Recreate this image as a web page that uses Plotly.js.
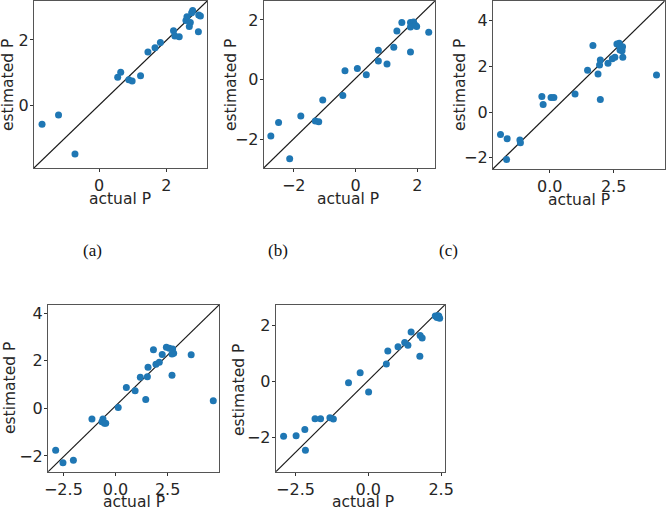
<!DOCTYPE html>
<html>
<head>
<meta charset="utf-8">
<script src="https://cdn.plot.ly/plotly-3.0.1.min.js"></script>
<style>
  html, body { margin: 0; padding: 0; background: #fff; }
  #chart { width: 666px; height: 509px; }
</style>
</head>
<body>
<div id="chart"></div>
<script>
// Actual vs. estimated P for five cases, each with its reference diagonal.
const actualA = [-1.70, -1.21, -0.72, 0.55, 0.64, 0.88, 0.98, 1.23, 1.45, 1.66, 1.82,
                 2.21, 2.25, 2.38, 2.58, 2.61, 2.71, 2.68, 2.75, 2.78, 2.96, 3.01, 2.95];
const estA    = [-0.58, -0.30, -1.49, 0.86, 1.01, 0.78, 0.74, 0.90, 1.63, 1.76, 1.92,
                 2.28, 2.12, 2.10, 2.59, 2.71, 2.53, 2.41, 2.83, 2.90, 2.76, 2.73, 2.25];

const actualB = [-2.74, -2.49, -2.13, -1.77, -1.30, -1.19, -1.06, -0.41, -0.34, 0.06, 0.35, 0.74,
                 0.74, 1.02, 1.24, 1.34, 1.50, 1.78, 1.78, 1.88, 1.78, 1.94, 1.98, 2.37];
const estB    = [-1.87, -1.42, -2.63, -1.21, -1.37, -1.40, -0.67, -0.52, 0.30, 0.38, 0.17, 0.99,
                 0.63, 0.53, 1.09, 1.63, 1.91, 0.93, 1.91, 1.93, 1.76, 1.82, 1.78, 1.59];

const actualC = [-1.93, -1.67, -1.69, -1.17, -1.15, -0.31, -0.26, 0.05, 0.16, 0.99, 1.48, 1.69, 1.89, 1.95,
                 1.98, 1.98, 2.28, 2.45, 2.55, 2.63, 2.72, 2.76, 2.75, 2.83, 2.85, 2.86, 4.18];
const estC    = [-0.98, -1.17, -2.08, -1.22, -1.34, 0.68, 0.33, 0.63, 0.63, 0.79, 1.82, 2.91, 1.66, 2.05,
                 2.27, 0.55, 2.13, 2.33, 2.39, 2.97, 3.00, 2.85, 2.71, 2.68, 2.85, 2.39, 1.62];

const actualD = [-2.87, -2.52, -2.02, -1.13, -0.60, -0.65, -0.53, -0.47, 0.13, 0.52, 0.94, 1.19, 1.45, 1.53,
                 1.56, 1.82, 1.94, 2.10, 2.24, 2.44, 2.58, 2.74, 2.79, 2.71, 2.71, 3.63, 4.69];
const estD    = [-1.76, -2.29, -2.18, -0.45, -0.45, -0.56, -0.63, -0.63, 0.04, 0.88, 0.74, 1.31, 0.37, 1.33,
                 1.73, 2.46, 1.85, 1.94, 2.26, 2.57, 2.53, 2.50, 2.32, 2.29, 1.39, 2.25, 0.32];

const actualE = [-2.91, -2.48, -2.18, -2.16, -1.83, -1.64, -1.32, -1.20, -0.68, -0.28, 0.01, 0.62, 0.67,
                 1.02, 1.25, 1.36, 1.47, 1.77, 1.78, 1.85, 2.30, 2.38, 2.45, 2.42, 2.36];
const estE    = [-1.97, -1.95, -1.73, -2.47, -1.34, -1.34, -1.31, -1.35, -0.05, 0.31, -0.38, 0.63, 1.09,
                 1.25, 1.40, 1.30, 1.78, 0.90, 1.65, 1.56, 2.35, 2.36, 2.27, 2.35, 2.30];

// Tick values per panel
const ticksXA = [0, 2],          ticksYA = [0, 2];
const ticksXB = [-2, 0, 2],      ticksYB = [-2, 0, 2];
const ticksXC = [0, 2.5],        ticksYC = [-2, 0, 2, 4];
const ticksXD = [-2.5, 0, 2.5],  ticksYD = [-2, 0, 2, 4];
const ticksXE = [-2.5, 0, 2.5],  ticksYE = [-2, 0, 2];

const captions = ['(a)', '(b)', '(c)'];

// xt: x-title centre (px, y null = pinned to the bottom edge), yt: y-title centre (px)
const panels = [
  {x: actualA, y: estA, xr: [-1.94, 3.21], yr: [-1.92, 3.19], tx: ticksXA, ty: ticksYA, fx: false,
   dx: [0.051, 0.311], dy: [0.670, 0.998], xt: [120, 199], yt: [8, 85]},
  {x: actualB, y: estB, xr: [-2.97, 2.57], yr: [-2.94, 2.63], tx: ticksXB, ty: ticksYB, fx: false,
   dx: [0.396, 0.653], dy: [0.670, 0.998], xt: [348, 199], yt: [231, 85]},
  {x: actualC, y: estC, xr: [-2.23, 4.50], yr: [-2.49, 4.85], tx: ticksXC, ty: ticksYC, fx: true,
   dx: [0.740, 0.998], dy: [0.668, 0.998], xt: [579, 200], yt: [460, 85]},
  {x: actualD, y: estD, xr: [-3.24, 4.97], yr: [-2.67, 4.35], tx: ticksXD, ty: ticksYD, fx: true,
   dx: [0.072, 0.329], dy: [0.073, 0.401], xt: [134, null], yt: [10, 388]},
  {x: actualE, y: estE, xr: [-3.18, 2.63], yr: [-3.25, 2.75], tx: ticksXE, ty: ticksYE, fx: true,
   dx: [0.414, 0.668], dy: [0.073, 0.401], xt: [363, null], yt: [239, 390]}
];

const W = 666, H = 509;
const tickFont = {family: 'DejaVu Sans', size: 16, color: '#262626'};
const titleFont = {family: 'DejaVu Sans', size: 15.5, color: '#262626'};
const data = [];
const layout = {
  width: W, height: H,
  margin: {l: 0, r: 0, t: 0, b: 0},
  paper_bgcolor: '#fff', plot_bgcolor: '#fff',
  showlegend: false,
  annotations: []
};

const fmt = (v, oneDecimal) => (oneDecimal ? v.toFixed(1) : String(v)).replace('-', '\u2212');

panels.forEach((p, i) => {
  const n = i === 0 ? '' : String(i + 1);
  const xa = 'x' + n, ya = 'y' + n;
  // reference diagonal across the panel
  data.push({
    x: [p.xr[0], p.xr[1]], y: [p.yr[0], p.yr[1]],
    xaxis: xa, yaxis: ya, mode: 'lines', type: 'scatter',
    line: {color: '#1a1a1a', width: 1.2}, hoverinfo: 'skip'
  });
  data.push({
    x: p.x, y: p.y, xaxis: xa, yaxis: ya, mode: 'markers', type: 'scatter',
    marker: {color: '#1f77b4', size: 7, line: {width: 0}}
  });
  const common = {
    showgrid: false, zeroline: false, showline: true, mirror: true,
    linecolor: '#555', linewidth: 1, ticks: 'outside', ticklen: 3,
    tickcolor: '#333', tickfont: tickFont, tickmode: 'array'
  };
  layout['xaxis' + n] = Object.assign({}, common, {
    domain: p.dx, range: p.xr, anchor: ya, tickvals: p.tx,
    ticktext: p.tx.map(v => fmt(v, p.fx))
  });
  layout['yaxis' + n] = Object.assign({}, common, {
    domain: p.dy, range: p.yr, anchor: xa, tickvals: p.ty, ticklabelstandoff: -2,
    ticktext: p.ty.map(v => fmt(v, false))
  });
  const xTitle = {
    text: 'actual P', xref: 'paper', yref: 'paper', x: p.xt[0] / W, xanchor: 'center',
    showarrow: false, font: titleFont
  };
  if (p.xt[1] === null) {
    Object.assign(xTitle, {y: 0, yanchor: 'bottom', yshift: -4});
  } else {
    Object.assign(xTitle, {y: 1 - p.xt[1] / H, yanchor: 'middle'});
  }
  layout.annotations.push(xTitle);
  layout.annotations.push({
    text: 'estimated P', xref: 'paper', yref: 'paper', textangle: -90,
    x: p.yt[0] / W, y: 1 - p.yt[1] / H, xanchor: 'center', yanchor: 'middle',
    showarrow: false, font: titleFont
  });
});

// sub-figure captions under the top row
const captionX = [93, 278, 448];
captions.forEach((c, i) => {
  layout.annotations.push({
    text: c, xref: 'paper', yref: 'paper',
    x: captionX[i] / W, y: 1 - 250 / H, xanchor: 'center', yanchor: 'middle',
    showarrow: false, font: {family: 'Liberation Serif', size: 17, color: '#111'}
  });
});

Plotly.newPlot('chart', data, layout, {displayModeBar: false, staticPlot: true});
</script>
</body>
</html>
